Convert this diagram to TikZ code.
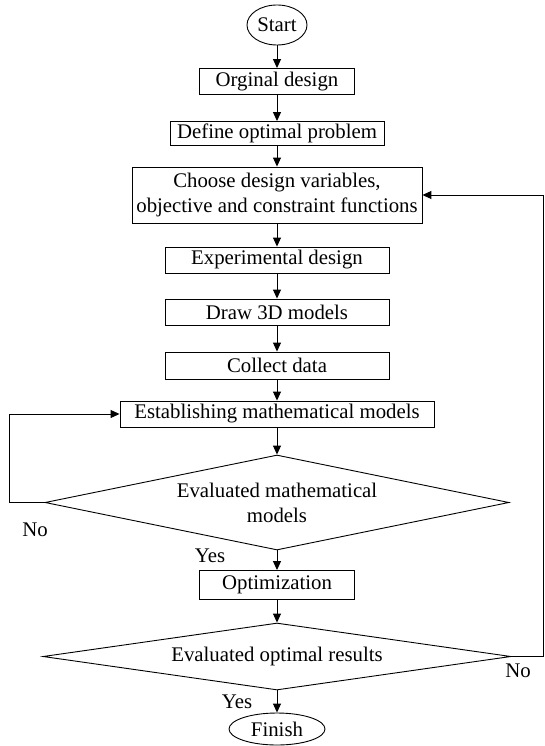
\documentclass[tikz,border=0pt]{standalone}
\usepackage{fontspec}
\setmainfont{Liberation Serif}
\usetikzlibrary{shapes.geometric,arrows.meta}
\tikzstyle{fc-box} = [draw=black, line width=0.9pt, rectangle, inner sep=0pt,
    minimum height=26pt, align=center]
\tikzstyle{fc-term} = [draw=black, line width=0.9pt, ellipse, inner sep=0pt]
\tikzstyle{fc-cond} = [draw=black, line width=0.9pt, diamond, inner sep=0pt, align=center]
\tikzstyle{fc-arrow} = [draw=black, line width=1pt, -{Triangle[length=9pt,width=8pt]}]
\tikzstyle{fc-label} = [inner sep=0pt]

\begin{document}
\begin{tikzpicture}[x=1pt, y=-1pt, font=\fontsize{20.8}{25}\selectfont]
\useasboundingbox (0,0) rectangle (544,746);
\node [fc-term, minimum width=60pt, minimum height=40pt] (start) at (277,25) {Start};
\node [fc-box, minimum width=155pt] (orig) at (277,81.5) {Orginal design};
\node [fc-box, minimum width=214pt, minimum height=24pt] (define) at (277,133.5) {Define optimal problem};
\node [fc-box, minimum width=290pt, minimum height=56pt] (choose) at (277,195)
    {Choose design variables,\\objective and constraint functions};
\node [fc-box, minimum width=224pt] (exper) at (277,260) {Experimental design};
\node [fc-box, minimum width=224pt] (draw3d) at (277,312) {Draw 3D models};
\node [fc-box, minimum width=224pt, minimum height=27pt] (collect) at (277,365.5) {Collect data};
\node [fc-box, minimum width=314pt] (establish) at (277,414) {Establishing mathematical models};
\node [fc-cond, aspect=4.9, minimum width=464pt, minimum height=95pt] (evalmath) at (277,502.5)
    {Evaluated mathematical\\models};
\node [fc-box, minimum width=155pt, minimum height=29pt] (optim) at (277,585) {Optimization};
\node [fc-cond, aspect=7, minimum width=468pt, minimum height=67pt] (evalopt) at (277,656.5)
    {Evaluated optimal results};
\node [fc-term, minimum width=96pt, minimum height=32pt] (finish) at (277,729) {Finish};

\node [fc-label] (no-math) at (35,530) {No};
\node [fc-label] (yes-math) at (210,556) {Yes};
\node [fc-label] (no-opt) at (518,671) {No};
\node [fc-label] (yes-opt) at (237,702) {Yes};

\draw [fc-arrow] (start) -- (orig);
\draw [fc-arrow] (orig) -- (define);
\draw [fc-arrow] (define) -- (choose);
\draw [fc-arrow] (choose) -- (exper);
\draw [fc-arrow] (exper) -- (draw3d);
\draw [fc-arrow] (draw3d) -- (collect);
\draw [fc-arrow] (collect) -- (establish);
\draw [fc-arrow] (establish) -- (evalmath);
\draw [fc-arrow] (evalmath) -- (optim);
\draw [fc-arrow] (optim) -- (evalopt);
\draw [fc-arrow] (evalopt) -- (finish);
\draw [fc-arrow] (evalmath.west) -- ++(-35,0) |- (establish.west);
\draw [fc-arrow] (evalopt.east) -- ++(32,0) |- (choose.east);
\end{tikzpicture}
\end{document}
